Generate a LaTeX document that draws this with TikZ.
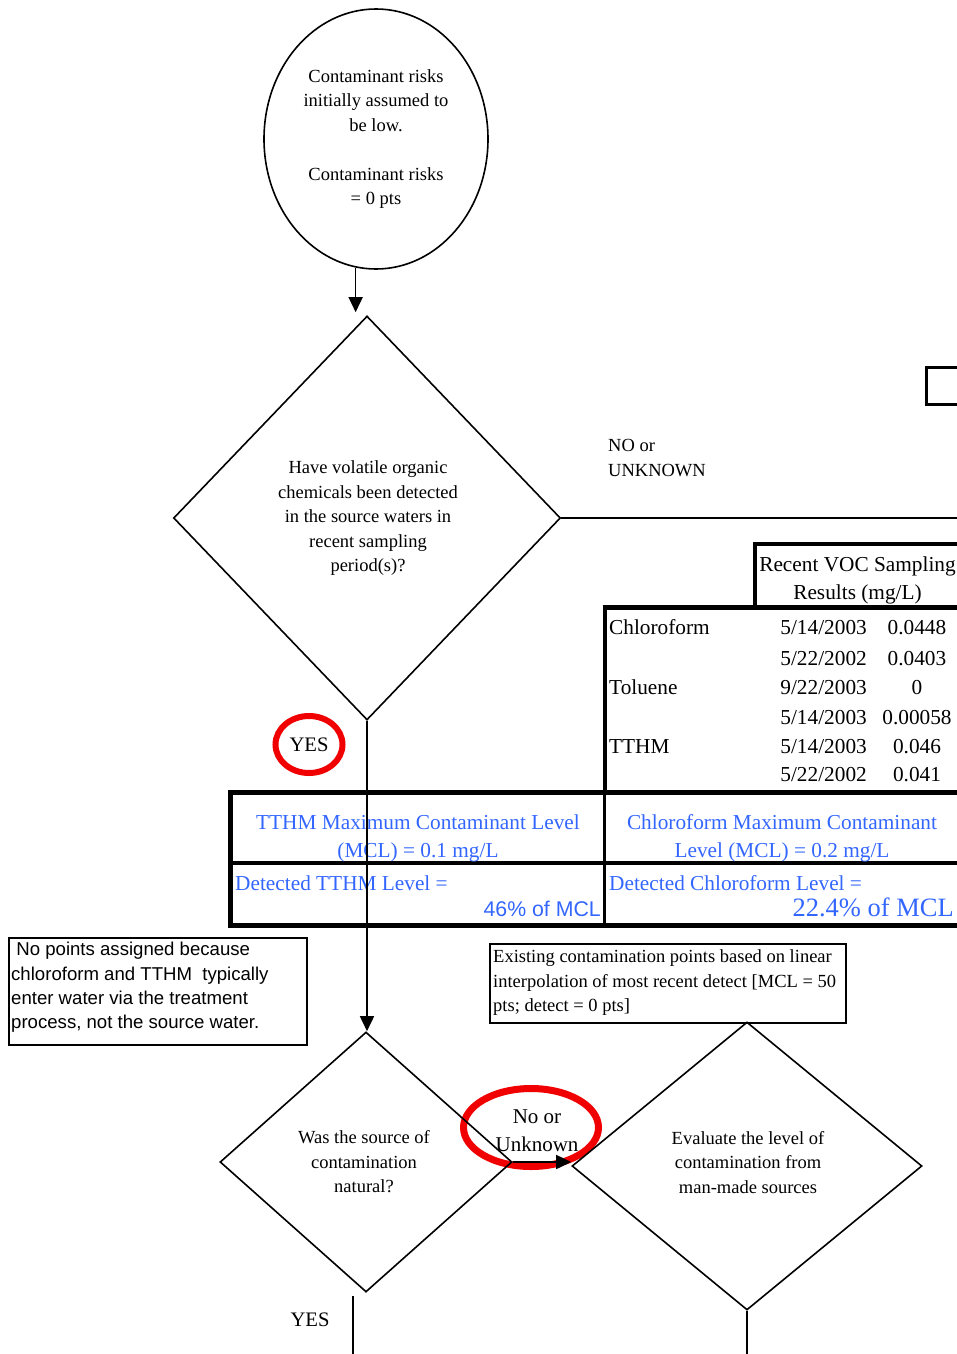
\documentclass[tikz,border=0pt]{standalone}
\usepackage{fontspec}
\setmainfont{Liberation Serif}
\newfontfamily\notesans{Liberation Sans}
\usetikzlibrary{shapes.geometric,arrows.meta}
\definecolor{mclblue}{RGB}{51,102,255}
\definecolor{ringred}{RGB}{240,0,0}
\begin{document}
\begin{tikzpicture}[x=1pt,y=-1pt,
  body/.style={font=\fontsize{18.5}{24.5}\selectfont, inner sep=0pt, align=center},
  tabtext/.style={font=\fontsize{21.3}{28}\selectfont, inner sep=0pt},
  mcltext/.style={tabtext, text=mclblue, align=center},
  decision/.style={diamond, draw, line width=1.6pt, inner sep=0pt, align=center,
    font=\fontsize{18.5}{24.5}\selectfont},
  start/.style={ellipse, draw, line width=1.6pt, inner sep=0pt, align=center,
    font=\fontsize{18.5}{24.5}\selectfont},
  notebox/.style={rectangle, draw, line width=1.6pt},
  ring/.style={ellipse, draw=ringred, inner sep=0pt},
  flow/.style={line width=1.6pt},
  arr/.style={flow, -{Triangle[length=15pt,width=14pt]}},
  grid/.style={line width=3.3pt},
]
\useasboundingbox (0,0) rectangle (957,1354);
\clip (0,0) rectangle (957,1354);

% highlight rings
\node[ring, line width=6pt, minimum width=67pt, minimum height=57pt,
  font=\fontsize{20.6}{26}\selectfont] (yes1) at (309,744.5) {YES};
\node[ring, line width=7pt, minimum width=135pt, minimum height=78pt] (ring2) at (531,1127.5) {};
\node[body, font=\fontsize{21}{28}\selectfont] (nolabel) at (537,1131) {No or\\Unknown};

% start ellipse
\node[start, minimum width=224pt, minimum height=260pt] (e1) at (376,139)
  {Contaminant risks\\initially assumed to\\be low.\\[24.5pt]Contaminant risks\\= 0 pts};

% decisions
\node[decision, minimum width=387pt, minimum height=404pt] (d1) at (367,518) {};
\node[body] (d1txt) at (368,518.5)
  {Have volatile organic\\chemicals been detected\\in the source waters in\\recent sampling\\period(s)?};
\node[decision, minimum width=292pt, minimum height=260pt] (d2) at (366,1162) {};
\node[body] (d2txt) at (364,1162) {Was the source of\\contamination\\natural?};
\node[decision, minimum width=350pt, minimum height=288pt] (d3) at (747,1166) {};
\node[body] (d3txt) at (748,1162.5) {Evaluate the level of\\contamination from\\man-made sources};

% partial box at the right edge
\node[rectangle, draw, line width=3pt, minimum width=40pt, minimum height=37pt,
  anchor=north west] (sidebox) at (925,366) {};

% branch label
\node[body, align=left, anchor=west] (nolbl) at (608,458) {NO or\\UNKNOWN};

% sampling results table
\draw[line width=4pt] (754.7,607) -- (754.7,544.3) -- (975,544.3);
\draw[line width=5pt] (602.7,607.5) -- (975,607.5);
\draw[line width=4pt] (604.7,607.5) -- (604.7,792);
\node[tabtext, align=center] (hdr) at (857.5,580.5) {Recent VOC Sampling\\Results (mg/L)};

\node[tabtext, anchor=base west] (n1) at (609,634) {Chloroform};
\node[tabtext, anchor=base east] (t1) at (867,634) {5/14/2003};
\node[tabtext, anchor=base] (v1) at (917,634) {0.0448};
\node[tabtext, anchor=base east] (t2) at (867,665) {5/22/2002};
\node[tabtext, anchor=base] (v2) at (917,665) {0.0403};
\node[tabtext, anchor=base west] (n3) at (609,694) {Toluene};
\node[tabtext, anchor=base east] (t3) at (867,694) {9/22/2003};
\node[tabtext, anchor=base] (v3) at (917,694) {0};
\node[tabtext, anchor=base east] (t4) at (867,724) {5/14/2003};
\node[tabtext, anchor=base] (v4) at (917,724) {0.00058};
\node[tabtext, anchor=base west] (n5) at (609,753) {TTHM};
\node[tabtext, anchor=base east] (t5) at (867,753) {5/14/2003};
\node[tabtext, anchor=base] (v5) at (917,753) {0.046};
\node[tabtext, anchor=base east] (t6) at (867,781) {5/22/2002};
\node[tabtext, anchor=base] (v6) at (917,781) {0.041};

% MCL table
\draw[line width=5pt] (975,792) -- (230,792) -- (230,925) -- (975,925);
\draw[grid] (604.7,792) -- (604.7,925);
\draw[grid] (230,863) -- (975,863);
\node[mcltext] (m1) at (418,838) {TTHM Maximum Contaminant Level\\(MCL) = 0.1 mg/L};
\node[mcltext] (m2) at (782,838) {Chloroform Maximum Contaminant\\Level (MCL) = 0.2 mg/L};
\node[mcltext, anchor=base west] (m3) at (235,890) {Detected TTHM Level =};
\node[text=mclblue, inner sep=0pt, anchor=base east, font=\notesans\fontsize{21.3}{26}\selectfont] (m4) at (601,916) {46\% of MCL};
\node[mcltext, anchor=base west] (m5) at (609,890) {Detected Chloroform Level =};
\node[text=mclblue, inner sep=0pt, anchor=base east, font=\fontsize{26.5}{30}\selectfont] (m6) at (954,916) {22.4\% of MCL};

% notes
\node[notebox, anchor=north west, minimum width=298pt, minimum height=107pt] (note1) at (8,937) {};
\node[anchor=north west, inner sep=0pt, align=left,
  font=\notesans\fontsize{18.6}{24.4}\selectfont] (note1txt) at (11,942)
  {\hspace*{0.28em}No points assigned because\\chloroform and TTHM\ \ typically\\enter water via the treatment\\process, not the source water.};
\node[notebox, anchor=north west, minimum width=356pt, minimum height=79pt] (note2) at (489,943) {};
\node[anchor=north west, inner sep=0pt, align=left,
  font=\fontsize{18.5}{24.5}\selectfont] (note2txt) at (493,949.5)
  {Existing contamination points based on linear\\interpolation of most recent detect [MCL = 50\\pts; detect = 0 pts]};

% connectors
\coordinate (rim) at (975,518);
\coordinate (yesfoot) at (353,1360);
\coordinate (evalfoot) at (747,1360);
\draw[arr, shorten >=3pt] (e1.261.5) -- (e1.261.5 |- d1.north);
\draw[flow] (d1.east) -- (rim);
\draw[arr] (d1.south) -- (d1.south |- d2.north);
\draw[arr] (d2.east) -- (d2.east -| d3.west);
\draw[flow] ([yshift=-3pt]d2.south -| yesfoot) -- (yesfoot);
\draw[flow] (d3.south) -- (evalfoot);
\node[body, font=\fontsize{20.6}{26}\selectfont] (yes2) at (310,1320) {YES};
\end{tikzpicture}
\end{document}
